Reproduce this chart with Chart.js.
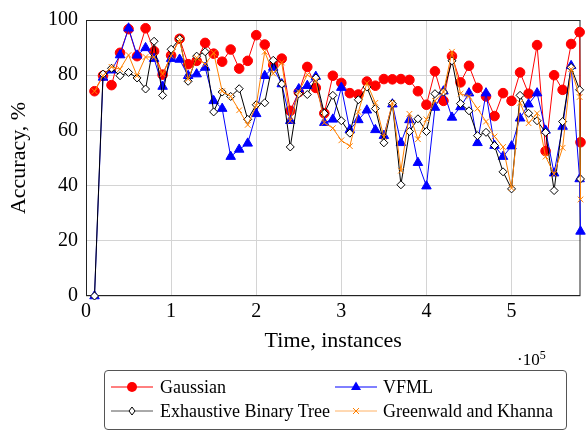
<!DOCTYPE html>
<html>
<head>
<meta charset="utf-8">
<title>Accuracy over time</title>
<script src="https://cdn.jsdelivr.net/npm/chart.js@4.4.1/dist/chart.umd.min.js"></script>
<style>
  body { margin: 0; background: #fff; }
  #wrap { position: relative; width: 587px; height: 432px; font-family: "Liberation Serif", "DejaVu Serif", serif; color: #000; }
  #chart { position: absolute; left: 0; top: 0; }
  #exp { position: absolute; left: 517px; top: 351px; font-size: 17px; line-height: 17px; }
  #exp sup { font-size: 12px; vertical-align: 6px; line-height: 0; }
  #legend { position: absolute; left: 104px; top: 370px; width: 461px; height: 58px; border: 1px solid #555; border-radius: 4px; }
  .item { position: absolute; height: 20px; line-height: 20px; font-size: 18px; white-space: nowrap; }
  .item svg { position: absolute; left: 0; top: 0; }
  .item span { position: absolute; top: 0; }
</style>
</head>
<body>
<div id="wrap">
  <canvas id="chart" width="587" height="368"></canvas>
  <div id="exp">&middot;10<sup>5</sup></div>
  <div id="legend">
    <div class="item" style="left:6px; top:6px;">
      <svg width="42" height="20"><line x1="0" y1="10" x2="42" y2="10" stroke="#ff0000" stroke-width="1"/><circle cx="21" cy="10" r="5" fill="#ff0000"/></svg>
      <span style="left:49px;">Gaussian</span>
    </div>
    <div class="item" style="left:230px; top:6px;">
      <svg width="42" height="20"><line x1="0" y1="10" x2="42" y2="10" stroke="#0000ff" stroke-width="1"/><polygon points="21,4.5 26,13 16,13" fill="#0000ff"/></svg>
      <span style="left:48px;">VFML</span>
    </div>
    <div class="item" style="left:6px; top:30px;">
      <svg width="42" height="20"><line x1="0" y1="10" x2="42" y2="10" stroke="#555" stroke-width="1"/><polygon points="21,6 24,10 21,14 18,10" fill="#fff" stroke="#000" stroke-width="1"/></svg>
      <span style="left:49px;">Exhaustive Binary Tree</span>
    </div>
    <div class="item" style="left:230px; top:30px;">
      <svg width="42" height="20"><line x1="0" y1="10" x2="42" y2="10" stroke="#ffb266" stroke-width="1"/><path d="M18 7 L24 13 M24 7 L18 13" stroke="#ff8000" stroke-width="1"/></svg>
      <span style="left:48px;">Greenwald and Khanna</span>
    </div>
  </div>
</div>
<script>
// x positions: instances seen
var instances = [10000, 20000, 30000, 40000, 50000, 60000, 70000, 80000, 90000, 100000,
  110000, 120000, 130000, 140000, 150000, 160000, 170000, 180000, 190000, 200000,
  210000, 220000, 230000, 240000, 250000, 260000, 270000, 280000, 290000, 300000,
  310000, 320000, 330000, 340000, 350000, 360000, 370000, 380000, 390000, 400000,
  410000, 420000, 430000, 440000, 450000, 460000, 470000, 480000, 490000, 500000,
  510000, 520000, 530000, 540000, 550000, 560000, 570000, 580000, 581012];

var gaussian = [74.2, 79.8, 76.4, 88.1, 96.7, 86.9, 97, 88.7, 80.2, 87.2,
  93.2, 84, 85.2, 91.7, 87.8, 84.9, 89.3, 82.4, 85.2, 94.5,
  91.1, 83.7, 86, 67.1, 73.9, 83, 75.4, 66.2, 79.8, 77.2,
  73.5, 73, 77.7, 76.2, 78.6, 78.5, 78.6, 78.3, 74.2, 69.3,
  81.4, 70.7, 86.9, 77.4, 83.4, 75.4, 72.3, 65.2, 73.5, 70.7,
  81, 73.3, 90.9, 52.5, 80, 74.7, 91.3, 95.6, 55.7];

var vfml = [0, 79.2, 81.8, 87.3, 97, 87.2, 89.9, 86, 75.9, 86,
  85.7, 79.8, 80.4, 82.8, 70.7, 67.9, 50.5, 53.1, 55.3, 66,
  79.8, 82.8, 76.8, 63.5, 75, 76.2, 79.5, 62.8, 64, 75.5,
  60.2, 63.8, 67.3, 60.2, 58.1, 69.5, 55.5, 63.8, 48.3, 39.8,
  68.3, 74.2, 64.7, 68.5, 73.5, 55.5, 73.5, 54.5, 50.5, 54.3,
  64.4, 69.5, 73.5, 60, 44.5, 61.4, 83.4, 42.4, 23.4];

var exhaustive = [0, 80.4, 82.5, 79.8, 81, 79, 75, 92.3, 72.7, 89.4,
  93.2, 77.8, 86.9, 88.5, 66.7, 73.9, 72.3, 75.1, 64, 69.3,
  70, 85.4, 76.8, 54, 73.3, 73, 79, 66.2, 72.7, 63.5,
  59, 71.1, 75.7, 67.9, 55.5, 69.7, 40.3, 59.6, 64.2, 59.6,
  73.3, 73.9, 85.2, 69.7, 67.1, 58.1, 59.3, 54.5, 45, 38.8,
  72.7, 66.2, 63.5, 59.3, 38.2, 63.2, 82.8, 74.7, 42.4];

var greenwald = [74.2, 79.8, 83, 82.2, 87.3, 79.8, 86.6, 86.6, 80.4, 87,
  92.9, 78.6, 86.3, 84, 88.1, 74.2, 72.3, 67.3, 62, 69,
  88.5, 80.6, 84.6, 63.5, 73.9, 80.2, 78, 62.8, 60.8, 56.4,
  54.3, 66.7, 77.1, 70, 57.6, 70, 45.4, 66, 56.8, 64,
  70.7, 73.9, 88.5, 73.3, 72.3, 67.9, 63.2, 57.8, 54, 39.1,
  70, 62.6, 66.2, 50.5, 44.2, 53.7, 82.2, 72.1, 35];

var xTicks = [0, 100000, 200000, 300000, 400000, 500000];
var xTickLabels = ["0", "1", "2", "3", "4", "5"];
var yTicks = [0, 20, 40, 60, 80, 100];

function pts(values) {
  return values.map(function (v, i) { return { x: instances[i], y: v }; });
}

// full box around the plot area
var framePlugin = {
  id: "frame",
  beforeDatasetsDraw: function (chart) {
    var ctx = chart.ctx, a = chart.chartArea;
    ctx.save();
    ctx.strokeStyle = "#222";
    ctx.lineWidth = 1;
    ctx.strokeRect(a.left + 0.5, a.top + 0.5, a.right - a.left - 1, a.bottom - a.top - 1);
    ctx.restore();
  }
};

var serif = "'Liberation Serif', 'DejaVu Serif', serif";

new Chart(document.getElementById("chart").getContext("2d"), {
  type: "line",
  data: {
    datasets: [
      {
        label: "Gaussian",
        data: pts(gaussian),
        borderColor: "#ff0000",
        backgroundColor: "#ff0000",
        pointStyle: "circle",
        pointRadius: 4.8,
        pointBorderWidth: 1,
        order: 4
      },
      {
        label: "VFML",
        data: pts(vfml),
        borderColor: "#0000ff",
        backgroundColor: "#0000ff",
        pointStyle: "triangle",
        pointRadius: 5.5,
        pointBorderWidth: 1,
        order: 3
      },
      {
        label: "Exhaustive Binary Tree",
        data: pts(exhaustive),
        borderColor: "#000000",
        backgroundColor: "#ffffff",
        pointStyle: "rectRot",
        pointRadius: 4,
        pointBorderWidth: 1,
        order: 2
      },
      {
        label: "Greenwald and Khanna",
        data: pts(greenwald),
        borderColor: "#ff8000",
        backgroundColor: "#ff8000",
        pointStyle: "crossRot",
        pointRadius: 4,
        pointBorderWidth: 1,
        order: 1
      }
    ]
  },
  options: {
    responsive: false,
    animation: false,
    events: [],
    layout: { padding: { top: 15, right: 3, left: 0, bottom: 0 } },
    elements: {
      line: { borderWidth: 1, tension: 0, fill: false },
      point: { hoverRadius: 0 }
    },
    datasets: { line: { clip: false } },
    plugins: {
      legend: { display: false },
      tooltip: { enabled: false }
    },
    scales: {
      x: {
        type: "linear",
        min: 0,
        max: 581012,
        afterBuildTicks: function (s) { s.ticks = xTicks.map(function (v) { return { value: v }; }); },
        afterFit: function (s) { s.height = 72; },
        grid: { color: "#d4d4d4", lineWidth: 1, drawTicks: false },
        border: { display: false },
        ticks: {
          color: "#000",
          padding: 4,
          maxRotation: 0,
          font: { family: serif, size: 20 },
          callback: function (v, i) { return xTickLabels[i]; }
        },
        title: {
          display: true,
          text: "Time, instances",
          color: "#000",
          font: { family: serif, size: 22 },
          padding: { top: 0, bottom: 14 }
        }
      },
      y: {
        min: 0,
        max: 100,
        afterBuildTicks: function (s) { s.ticks = yTicks.map(function (v) { return { value: v }; }); },
        afterFit: function (s) { s.width = 86; },
        grid: { color: "#d4d4d4", lineWidth: 1, drawTicks: false },
        border: { display: false },
        ticks: {
          color: "#000",
          padding: 8,
          font: { family: serif, size: 20 }
        },
        title: {
          display: true,
          text: "Accuracy, %",
          color: "#000",
          font: { family: serif, size: 22 },
          padding: { top: 6, bottom: 0 }
        }
      }
    }
  },
  plugins: [framePlugin]
});
</script>
</body>
</html>
